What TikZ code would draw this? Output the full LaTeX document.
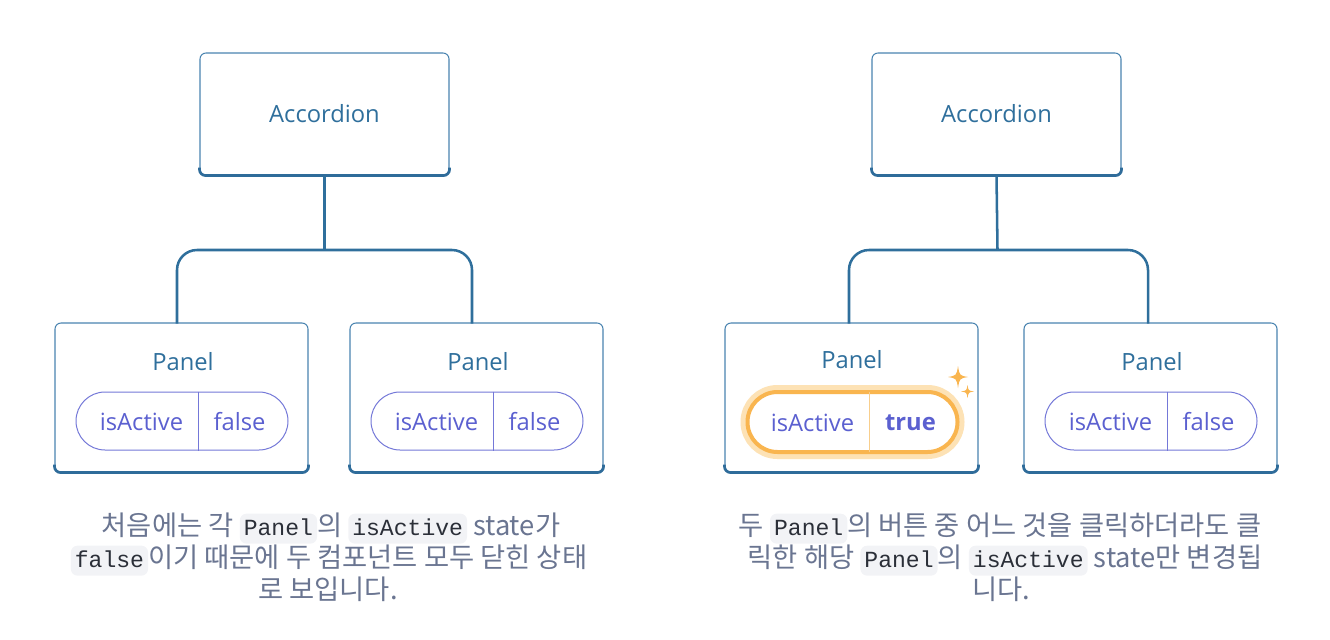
\documentclass[tikz,border=0pt]{standalone}
\usepackage{fontspec}
\setmainfont{Open Sans}
\newfontfamily\krfont{Noto Sans CJK KR}
\newfontfamily\codefont{Liberation Mono}
\usetikzlibrary{calc}
\definecolor{boxblue}{HTML}{4A84B0}
\definecolor{boxdark}{HTML}{2F6C9A}
\definecolor{titleblue}{HTML}{2F6F9C}
\definecolor{pillc}{HTML}{7478D8}
\definecolor{pilltext}{HTML}{5B60D0}
\definecolor{orangec}{HTML}{F9B54F}
\definecolor{haloc}{HTML}{FDE2B5}
\definecolor{divorange}{HTML}{F8CE8C}
\definecolor{captionc}{HTML}{6A7591}
\definecolor{codebg}{HTML}{F2F3F6}
\definecolor{codetext}{HTML}{2B2F38}
\newcommand\codebox[1]{\tikz[baseline=(cb.base)]\node[codestyle](cb){#1};}
\begin{document}
\begin{tikzpicture}[x=0.75pt,y=-0.75pt,
  box/.style={draw=boxblue, line width=0.8pt, rounded corners=4.5pt, fill=white, inner sep=0pt},
  accbox/.style={box, minimum width=186.75pt, minimum height=91.5pt},
  panelbox/.style={box, minimum width=189.75pt, minimum height=111.75pt},
  bottomedge/.style={draw=boxdark, line width=2pt, rounded corners=4.5pt},
  title/.style={text=titleblue, font=\fontsize{17.8}{21}\selectfont},
  conn/.style={draw=titleblue, line width=1.9pt},
  pill/.style={draw=pillc, line width=0.75pt, rounded corners=21.75pt, minimum width=159pt, minimum height=43.5pt, inner sep=0pt},
  ptext/.style={text=pilltext, font=\fontsize{17.8}{21}\selectfont, anchor=center},
  pilldiv/.style={draw=pillc, line width=0.75pt},
  codestyle/.style={fill=codebg, rounded corners=5pt, inner xsep=3pt, inner ysep=0pt, text height=16pt, text depth=6.5pt, text=codetext, font=\codefont\fontsize{17.3}{20}\selectfont},
  captext/.style={text=captionc, font=\krfont\fontsize{20.5}{24}\selectfont, anchor=base, inner sep=0pt},
  sparkle/.style={fill=orangec}
]
\useasboundingbox (0,0) rectangle (1330,639);

% ---------- left diagram ----------
\node[accbox] (acc1) at (324.5,114) {};
\node[title] (acc1t) at (acc1.center) {Accordion};
\node[panelbox] (p1) at (181.5,397.5) {};
\node[panelbox] (p2) at (476.5,397.5) {};
\foreach \n in {acc1,p1,p2}{
  \draw[bottomedge] ([yshift=6pt]\n.south west) -- (\n.south west) -- (\n.south east) -- ([yshift=6pt]\n.south east);
}
\node[title] (p1t) at (183,362) {Panel};
\node[title] (p2t) at (478,362) {Panel};
\coordinate (j1) at (324.5,250);
\coordinate (l1) at (177,323.5);
\coordinate (l2) at (472,323.5);
\draw[conn] (acc1.south) -- (j1);
\draw[conn, rounded corners=15pt] (l1) |- (j1) -| (l2);

\node[pill] (pill1) at (182,421) {};
\draw[pilldiv] ($(pill1.north west)+(123,0)$) -- ($(pill1.south west)+(123,0)$);
\node[ptext] (ia1) at ($(pill1.west)+(66,1)$) {isActive};
\node[ptext] (v1) at ($(pill1.east)+(-49,1)$) {false};

\node[pill] (pill2) at (477,421) {};
\draw[pilldiv] ($(pill2.north west)+(123,0)$) -- ($(pill2.south west)+(123,0)$);
\node[ptext] (ia2) at ($(pill2.west)+(66,1)$) {isActive};
\node[ptext] (v2) at ($(pill2.east)+(-49,1)$) {false};

% ---------- right diagram ----------
\node[accbox] (acc2) at (996.5,114) {};
\node[title] (acc2t) at (acc2.center) {Accordion};
\node[panelbox] (p3) at (851.5,397.5) {};
\node[panelbox] (p4) at (1150.5,397.5) {};
\foreach \n in {acc2,p3,p4}{
  \draw[bottomedge] ([yshift=6pt]\n.south west) -- (\n.south west) -- (\n.south east) -- ([yshift=6pt]\n.south east);
}
\node[title] (p3t) at (852,360) {Panel};
\node[title] (p4t) at (1152,362) {Panel};
\coordinate (j2) at (997.5,250);
\coordinate (l3) at (849,323.5);
\coordinate (l4) at (1148,323.5);
\draw[conn] (acc2.south) -- (j2);
\draw[conn, rounded corners=15pt] (l3) |- (j2) -| (l4);

% active pill
\node[draw=haloc, line width=10.5pt, rounded corners=22.5pt, minimum width=157.5pt, minimum height=45pt, inner sep=0pt] (pill3h) at (852.5,422) {};
\node[draw=orangec, fill=white, line width=3pt, rounded corners=22.5pt, minimum width=157.5pt, minimum height=45pt, inner sep=0pt] (pill3) at (852.5,422) {};
\draw[draw=divorange, line width=0.9pt] ($(pill3.north west)+(124,2)$) -- ($(pill3.south west)+(124,-2)$);
\node[ptext] (ia3) at ($(pill3.west)+(67,1)$) {isActive};
\node[ptext, font=\fontsize{17.8}{21}\selectfont\bfseries] (v3) at ($(pill3.east)+(-49,1)$) {true};
% sparkles
\fill[sparkle] (958,366) .. controls (959.5,375.5) .. (968,377) .. controls (959.5,378.5) .. (958,388) .. controls (956.5,378.5) .. (948,377) .. controls (956.5,375.5) .. cycle;
\fill[sparkle] (967.5,385) .. controls (968.4,390.6) .. (974,391.5) .. controls (968.4,392.4) .. (967.5,398) .. controls (966.6,392.4) .. (961,391.5) .. controls (966.6,390.6) .. cycle;

\node[pill] (pill4) at (1151,421) {};
\draw[pilldiv] ($(pill4.north west)+(123,0)$) -- ($(pill4.south west)+(123,0)$);
\node[ptext] (ia4) at ($(pill4.west)+(66,1)$) {isActive};
\node[ptext] (v4) at ($(pill4.east)+(-49,1)$) {false};

% ---------- captions ----------
\node[captext] (c1a) at (331,535) {처음에는 각 \codebox{Panel}의 \codebox{isActive} state가};
\node[captext] (c1b) at (329,567) {\codebox{false}이기 때문에 두 컴포넌트 모두 닫힌 상태};
\node[captext] (c1c) at (328,599) {로 보입니다.};
\node[captext] (c2a) at (1000,535) {두 \codebox{Panel}의 버튼 중 어느 것을 클릭하더라도 클};
\node[captext] (c2b) at (1005,567) {릭한 해당 \codebox{Panel}의 \codebox{isActive} state만 변경됩};
\node[captext] (c2c) at (1001,599) {니다.};
\end{tikzpicture}
\end{document}
